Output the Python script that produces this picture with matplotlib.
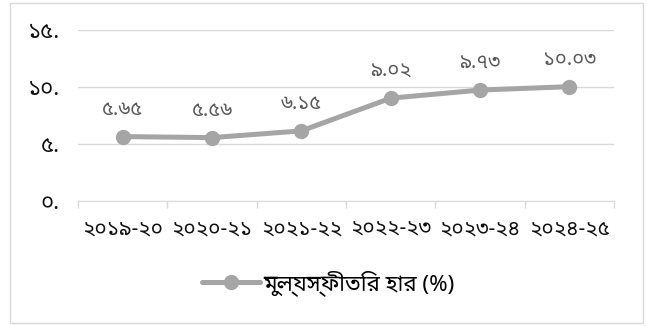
import matplotlib
matplotlib.use("Agg")
import matplotlib.pyplot as plt
from matplotlib.patches import Rectangle

years = ["২০১৯-২০", "২০২০-২১", "২০২১-২২", "২০২২-২৩", "২০২৩-২৪", "২০২৪-২৫"]
inflation = [5.65, 5.56, 6.15, 9.02, 9.73, 10.03]
yticks = [0, 5, 10, 15]
ytick_labels = ["০.", "৫.", "১০.", "১৫."]
series_name = "মুল্যস্ফীতির হার (%)"

bn_digits = str.maketrans("0123456789", "০১২৩৪৫৬৭৮৯")

plt.rcParams['font.family'] = ['Noto Sans Bengali', 'DejaVu Sans']

fig = plt.figure(figsize=(6.47, 3.26), dpi=100)
ax = fig.add_axes([78/647, 1 - 201/326, 536/647, 171/326])

# outer frame
fig.patches.append(Rectangle((10/647, 3/326), 633/647, 320/326, transform=fig.transFigure,
                             fill=False, edgecolor="#D9D9D9", lw=1))

x = list(range(len(years)))
line, = ax.plot(x, inflation, color="#A5A5A5", lw=3.6, marker="o", markersize=10,
                markerfacecolor="#A5A5A5", markeredgecolor="#A5A5A5",
                solid_capstyle="round", label=series_name, zorder=3)

for xi, v in zip(x, inflation):
    ax.annotate(f"{v:.2f}".translate(bn_digits), (xi, v), xytext=(0, 12),
                textcoords="offset points", ha="center", va="bottom",
                fontsize=14.5, color="#595959")

ax.set_xlim(-0.5, len(years) - 0.5)
ax.set_ylim(0, 15)
ax.set_yticks(yticks)
ax.set_yticklabels(ytick_labels)
ax.set_xticks(x)
ax.set_xticklabels(years)
ax.set_xticks([i - 0.5 for i in range(len(years) + 1)], minor=True)

ax.tick_params(axis="y", length=0, pad=13, labelsize=16, labelcolor="#111111")
ax.tick_params(axis="x", which="major", length=0, pad=13, labelsize=15, labelcolor="#111111")
ax.tick_params(axis="x", which="minor", length=5, width=1, color="#D9D9D9")

ax.grid(axis="y", color="#D9D9D9", lw=1)
ax.set_axisbelow(True)
for s in ["top", "right", "left"]:
    ax.spines[s].set_visible(False)
ax.spines["bottom"].set_color("#D9D9D9")

fig.legend(handles=[line], loc="center", bbox_to_anchor=(328/647, 1 - 283/326),
           frameon=False, fontsize=16, handlelength=2.6, handletextpad=0.15)

fig.savefig("out.png", dpi=100)
